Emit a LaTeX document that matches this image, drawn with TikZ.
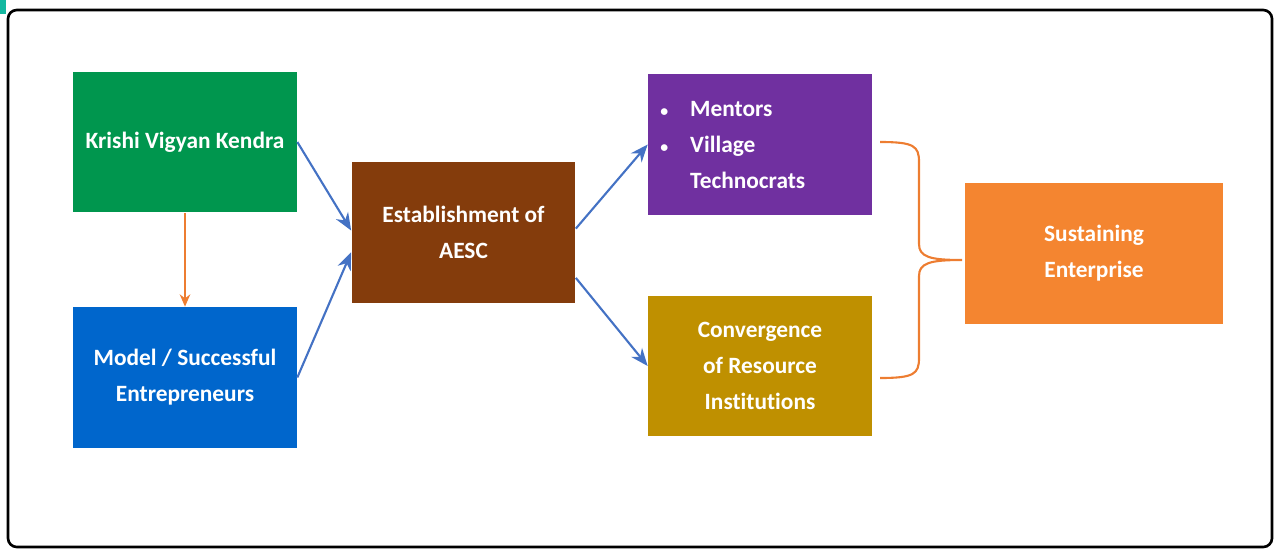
\documentclass[tikz,border=0pt]{standalone}
\usepackage{fontspec}
\setmainfont{Carlito}[Ligatures=NoCommon]
\usepackage{tikz}
\usetikzlibrary{arrows.meta}
\definecolor{kvkgreen}{RGB}{0,150,78}
\definecolor{modelblue}{RGB}{0,102,204}
\definecolor{aescbrown}{RGB}{132,60,12}
\definecolor{mentpurple}{RGB}{112,48,160}
\definecolor{convgold}{RGB}{191,144,0}
\definecolor{sustorange}{RGB}{244,133,48}
\definecolor{arrowblue}{RGB}{68,114,196}
\definecolor{lineorange}{RGB}{237,125,49}
\definecolor{cornerteal}{RGB}{20,184,160}
\newcommand{\smallbullet}{\makebox[17pt][l]{\fontsize{9}{9}\selectfont\textbullet}}

\begin{document}
\begin{tikzpicture}[x=0.02cm,y=-0.02cm,
  box/.style={minimum width=4.48cm,minimum height=2.82cm,inner sep=0pt,text=white,align=center,
    font=\fontsize{13.3}{20.5}\selectfont\bfseries},
  blueline/.style={draw=arrowblue,line width=1.2pt,-{Stealth[length=10pt,width=8pt]}},
  orangeline/.style={draw=lineorange,line width=0.9pt,-{Stealth[length=7pt,width=6pt]}},
  brace/.style={draw=lineorange,line width=1.2pt}]
\useasboundingbox (0,0) rectangle (1274,548);
\fill[cornerteal] (0,0) rectangle (6,14);
\draw[line width=1.5pt,rounded corners=5pt] (8,10) rectangle (1272,547);
\node[box,fill=kvkgreen] (kvk) at (185,142) {Krishi Vigyan Kendra};
\node[box,fill=modelblue] (model) at (185,377.5) {Model / Successful\\Entrepreneurs};
\node[box,fill=aescbrown] (aesc) at (463.5,232.5) {Establishment of\\AESC};
\node[box,fill=mentpurple] (mentors) at (760,144.5) {};
\node[anchor=west,text=white,inner sep=0pt,align=left,font=\fontsize{13.3}{20.5}\selectfont\bfseries] (mentlist) at (660,145)
  {\smallbullet Mentors\\ \smallbullet Village\\ \hspace*{17pt}Technocrats};
\node[box,fill=convgold] (conv) at (760,366) {Convergence\\of Resource\\Institutions};
\node[box,fill=sustorange,minimum width=5.16cm] (sust) at (1094,253.5) {Sustaining\\Enterprise};
\draw[orangeline] (kvk.south) -- (model.north);
\draw[blueline] (kvk.east) -- (aesc.179);
\draw[blueline] (model.east) -- (aesc.190);
\draw[blueline] (aesc.2) -- (mentors.west);
\draw[blueline] (aesc.338) -- (conv.west);
\coordinate (bracetop) at (880,142);
\coordinate (bracebot) at (880,378);
\coordinate (bracetip) at (962,260);
\draw[brace] (bracetop) .. controls (914,142) and (919,146) .. (919,162) -- (919,244)
  .. controls (919,257) and (930,260) .. (bracetip)
  .. controls (930,260) and (919,263) .. (919,276) -- (919,358)
  .. controls (919,374) and (914,378) .. (bracebot);
\end{tikzpicture}
\end{document}
